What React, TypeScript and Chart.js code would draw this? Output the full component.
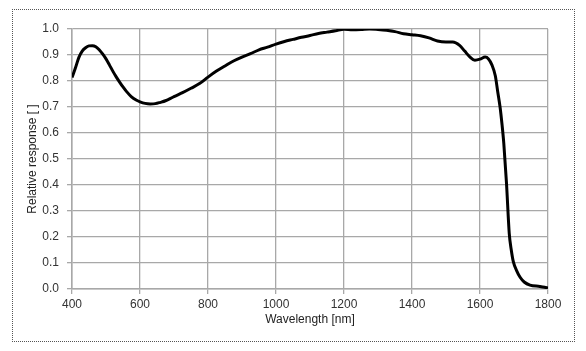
import React, { useEffect, useRef } from "react";
import { Chart, registerables } from "chart.js";

Chart.register(...registerables);

const wavelengths = [
  400, 410, 420, 430, 440, 450, 460, 470, 480, 490, 500, 510, 520, 530, 540, 550, 560, 575, 590, 600,
  615, 630, 645, 660, 675, 690, 700, 725, 750, 775, 800, 825, 850, 875, 900, 925, 950, 975, 1000,
  1025, 1050, 1075, 1100, 1125, 1150, 1175, 1200, 1225, 1250, 1275, 1300, 1325, 1350, 1375, 1400,
  1425, 1450, 1475, 1500, 1520, 1540, 1555, 1570, 1585, 1600, 1615, 1625, 1635, 1645, 1652, 1659,
  1665, 1670, 1678, 1686, 1692, 1698, 1708, 1718, 1730, 1747, 1776, 1790, 1800,
];
const response = [
  0.813, 0.85, 0.89, 0.915, 0.928, 0.935, 0.936, 0.932, 0.92, 0.904, 0.885, 0.862, 0.838, 0.816, 0.796,
  0.777, 0.76, 0.739, 0.726, 0.72, 0.714, 0.712, 0.713, 0.718, 0.724, 0.733, 0.74, 0.755, 0.772, 0.79,
  0.815, 0.838, 0.858, 0.877, 0.892, 0.905, 0.92, 0.93, 0.942, 0.952, 0.96, 0.968, 0.975, 0.983, 0.988,
  0.993, 0.999, 0.997, 0.998, 1.0, 0.998, 0.995, 0.99, 0.982, 0.978, 0.974, 0.966, 0.954, 0.95, 0.95,
  0.937, 0.915, 0.893, 0.88, 0.884, 0.892, 0.885, 0.862, 0.82, 0.76, 0.7, 0.63, 0.56, 0.405, 0.214,
  0.15, 0.105, 0.07, 0.045, 0.027, 0.015, 0.01, 0.007, 0.004,
];

const xTicks = [400, 600, 800, 1000, 1200, 1400, 1600, 1800];
const yTicks = [0, 0.1, 0.2, 0.3, 0.4, 0.5, 0.6, 0.7, 0.8, 0.9, 1.0];
const xTitle = "Wavelength [nm]";
const yTitle = "Relative response [ ]";

export default function App() {
  const ref = useRef<HTMLCanvasElement | null>(null);
  useEffect(() => {
    const prevMargin = document.body.style.margin;
    document.body.style.margin = "0";
    const ctx = ref.current!;
    const font = { family: "'Liberation Sans', Arial, sans-serif", size: 12 };
    const chart = new Chart(ctx, {
      type: "line",
      data: {
        datasets: [
          {
            data: wavelengths.map((w, i) => ({ x: w, y: response[i] })),
            borderColor: "#000",
            borderWidth: 3,
            pointRadius: 0,
            fill: false,
            cubicInterpolationMode: "monotone",
          },
        ],
      },
      options: {
        animation: false,
        responsive: false,
        maintainAspectRatio: false,
        plugins: { legend: { display: false }, tooltip: { enabled: false } },
        layout: { padding: { top: 29, right: 38, left: 25, bottom: 24 } },
        scales: {
          x: {
            type: "linear",
            min: 400,
            max: 1800,
            afterBuildTicks: (s: any) => {
              s.ticks = xTicks.map((v) => ({ value: v }));
            },
            afterFit: (s: any) => {
              s.height = 38;
            },
            ticks: {
              color: "#333",
              font,
              padding: 3,
              maxRotation: 0,
              autoSkip: false,
              callback: (v: any) => String(v),
            },
            grid: { color: "#a8a8a8", lineWidth: 1.3, tickLength: 5 },
            border: { color: "#a8a8a8", width: 1.5 },
            title: { display: true, text: xTitle, color: "#222", font, padding: { top: 2, bottom: 0 } },
          },
          y: {
            min: 0,
            max: 1,
            afterBuildTicks: (s: any) => {
              s.ticks = yTicks.map((v) => ({ value: v }));
            },
            afterFit: (s: any) => {
              s.width = 47;
            },
            ticks: {
              color: "#333",
              font,
              padding: 8,
              callback: (v: any) => Number(v).toFixed(1),
            },
            grid: { color: "#a8a8a8", lineWidth: 1.3, tickLength: 5 },
            border: { color: "#a8a8a8", width: 1.5 },
            title: { display: true, text: yTitle, color: "#222", font, padding: { top: 0, bottom: 4 } },
          },
        },
      },
    });
    return () => {
      chart.destroy();
      document.body.style.margin = prevMargin;
    };
  }, []);
  return (
    <div style={{ position: "relative", width: 586, height: 351, background: "#fff" }}>
      <canvas ref={ref} width={586} height={351} style={{ position: "absolute", left: 0, top: 0 }} />
      <div
        style={{
          position: "absolute",
          left: 12,
          top: 9,
          width: 561,
          height: 331,
          border: "1px dotted #555",
          pointerEvents: "none",
        }}
      />
    </div>
  );
}
